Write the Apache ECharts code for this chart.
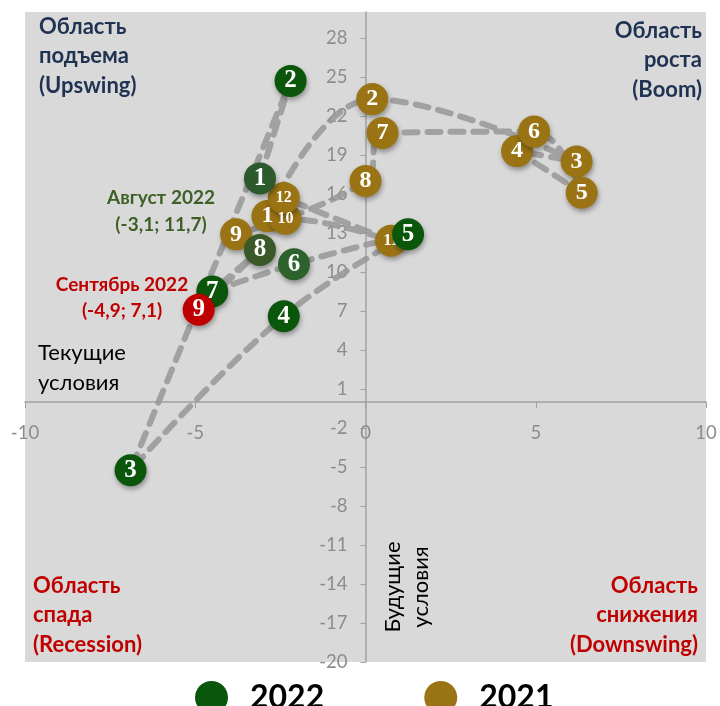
<!DOCTYPE html>
<html><head><meta charset="utf-8">
<script src="https://cdn.jsdelivr.net/npm/echarts@6/dist/echarts.min.js"></script>
<style>html,body{margin:0;padding:0;background:#fff}#c{width:720px;height:706px}</style>
</head><body><div id="c"></div>
<script>
// ---- data ----
const labels2022 = ['1','2','3','4','5','6','7','8','9'];
const x2022 = [-3.1, -2.2, -6.9, -2.4, 1.25, -2.1, -4.5, -3.1, -4.9];
const y2022 = [17.2, 24.7, -5.25, 6.6, 12.9, 10.6, 8.5, 11.7, 7.1];

const labels2021 = ['1','2','3','4','5','6','7','8','9','10','11','12'];
const x2021 = [-2.88, 0.2, 6.2, 4.45, 6.35, 4.95, 0.5, 0.0, -3.8, -2.35, 0.75, -2.4];
const y2021 = [14.3, 23.3, 18.5, 19.3, 16.1, 20.8, 20.7, 17.0, 12.9, 14.1, 12.4, 15.7];

const xTicks = [-10, -5, 0, 5, 10];
const yTicks = [-20,-17,-14,-11,-8,-5,-2,1,4,7,10,13,16,19,22,25,28];

// ---- layout / styles ----
const W = 720, H = 706;
const G = {left:25, right:14, top:12, bottom:44};
const XMIN = -10, XMAX = 10, YMIN = -20, YMAX = 30;
const gridW = W - G.left - G.right, gridH = H - G.top - G.bottom;
const yAxisOffset = -(0 - XMIN) / (XMAX - XMIN) * gridW;   // move y axis to x = 0
const xAxisOffset = -(0 - YMIN) / (YMAX - YMIN) * gridH;   // move x axis to y = 0

const GREEN = '#0a560a', GOLD = '#9a7414', RED = '#c00000';
const pointColor2022 = {'1':'#2c5a2c','6':'#2d622d','8':'#3a5828','9':RED};
const FONT = 'Lato, "Open Sans", sans-serif';

const pts2022 = x2022.map((x,i)=>({
  value:[x,y2022[i]], name:labels2022[i],
  itemStyle:{color: pointColor2022[labels2022[i]] || GREEN}
}));
const pts2021 = x2021.map((x,i)=>({
  value:[x,y2021[i]], name:labels2021[i],
  label:{fontSize: labels2021[i].length>1 ? 16 : 24}
}));

const dash = {color:'rgba(150,150,150,0.85)', width:6, type:[13,10], cap:'round'};
const ptLabel = {show:true, position:'inside', formatter:'{b}', color:'#fff',
  fontFamily:'"Liberation Serif", serif', fontWeight:'bold', fontSize:25};
const shadow = {opacity:1, shadowBlur:5, shadowColor:'rgba(0,0,0,0.35)', shadowOffsetX:1, shadowOffsetY:3};

const chart = echarts.init(document.getElementById('c'));
const boldNavy = {fill:'#1f3251', font:'bold 22px '+FONT, lineHeight:29.5};
const boldRed = {fill:RED, font:'bold 22px '+FONT, lineHeight:29.5};

chart.setOption({
  animation:false,
  grid:{left:G.left, right:G.right, top:G.top, bottom:G.bottom, show:true, backgroundColor:'#d9d9d9', borderWidth:0},
  xAxis:{type:'value', min:XMIN, max:XMAX, position:'bottom', offset:xAxisOffset,
    axisLine:{onZero:false, lineStyle:{color:'#a0a0a0', width:1.5}},
    axisTick:{show:true, customValues:xTicks, length:6, lineStyle:{color:'#a0a0a0'}},
    axisLabel:{customValues:xTicks, color:'#8c8c8c', fontSize:18.5, fontFamily:FONT, margin:22},
    splitLine:{show:false}},
  yAxis:{type:'value', min:YMIN, max:YMAX, position:'left', offset:yAxisOffset,
    axisLine:{onZero:false, lineStyle:{color:'#a0a0a0', width:1.5}},
    axisTick:{show:true, customValues:yTicks, length:5, lineStyle:{color:'#a0a0a0'}},
    axisLabel:{customValues:yTicks, color:'#8c8c8c', fontSize:18.5, fontFamily:FONT, margin:18},
    splitLine:{show:false}},
  legend:{left:190, top:676, itemWidth:33, itemHeight:33, itemGap:100, icon:'circle',
    data:['2022','2021'],
    textStyle:{fontSize:32, fontWeight:'bold', color:'#000', fontFamily:FONT, padding:[0,0,0,17]}},
  series:[
    {type:'line', name:'l2021', data:x2021.map((x,i)=>[x,y2021[i]]), smooth:0.4,
      symbol:'none', lineStyle:dash, z:1, silent:true},
    {type:'line', name:'l2022', data:x2022.map((x,i)=>[x,y2022[i]]), smooth:0.4,
      symbol:'none', lineStyle:dash, z:1, silent:true},
    {type:'scatter', name:'2021', data:pts2021, symbolSize:32, itemStyle:Object.assign({color:GOLD}, shadow),
      label:ptLabel, z:3},
    {type:'scatter', name:'2022', data:pts2022, symbolSize:32, itemStyle:Object.assign({color:GREEN}, shadow),
      label:ptLabel, z:4}
  ],
  graphic:[
    {type:'text', x:39, y:12, style:Object.assign({text:'Область\nподъема\n(Upswing)'}, boldNavy), z:10},
    {type:'text', x:702, y:16, style:Object.assign({text:'Область\nроста\n(Boom)', align:'right'}, boldNavy), z:10},
    {type:'text', x:33, y:571, style:Object.assign({text:'Область\nспада\n(Recession)'}, boldRed), z:10},
    {type:'text', x:698, y:571, style:Object.assign({text:'Область\nснижения\n(Downswing)', align:'right'}, boldRed), z:10},
    {type:'text', x:161, y:211, style:{text:'Август 2022\n(-3,1; 11,7)', fill:'#3e5f26', font:'bold 19px '+FONT,
      lineHeight:27, align:'center', verticalAlign:'middle'}, z:10},
    {type:'text', x:122, y:298, style:{text:'Сентябрь 2022\n(-4,9; 7,1)', fill:RED, font:'bold 19px '+FONT,
      lineHeight:26, align:'center', verticalAlign:'middle'}, z:10},
    {type:'text', x:38, y:338, style:{text:'Текущие\nусловия', fill:'#000', font:'22px '+FONT, lineHeight:30}, z:10},
    {type:'text', x:407, y:587, rotation:Math.PI/2, style:{text:'Будущие\nусловия', fill:'#000', font:'22px '+FONT,
      lineHeight:28, align:'center', verticalAlign:'middle'}, z:10}
  ]
});
</script></body></html>
